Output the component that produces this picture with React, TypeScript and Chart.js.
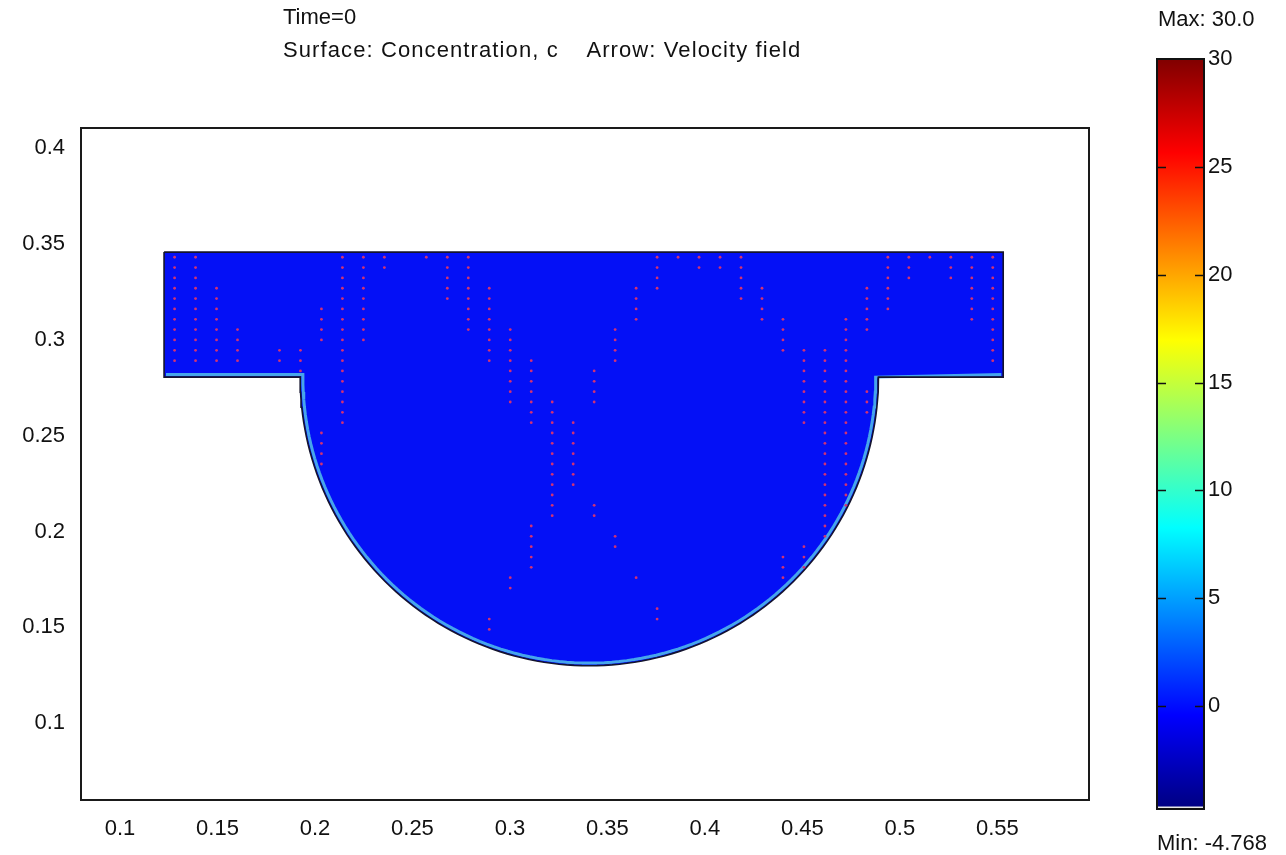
import React, { useEffect, useRef } from 'react';
import { Chart, registerables } from 'chart.js';

Chart.register(...registerables);

// ---- axes ----
const X_TICKS = [0.1, 0.15, 0.2, 0.25, 0.3, 0.35, 0.4, 0.45, 0.5, 0.55];
const Y_TICKS = [0.1, 0.15, 0.2, 0.25, 0.3, 0.35, 0.4];
const X_MIN = 0.08;
const X_MAX = 0.597;
const Y_MIN = 0.06;
const Y_MAX = 0.4104;

// ---- domain geometry (data units) ----
const RECT_LEFT = 0.1226;
const RECT_RIGHT = 0.553;
const RECT_TOP = 0.3457;
const LEDGE_Y = 0.2805;
const ARC_CX = 0.3407;
const ARC_RX = 0.1483;
const ARC_RY = 0.1505;

// ---- colour range ----
const COLOR_MIN = -4.768;
const COLOR_MAX = 30;
const COLOR_TICKS = [0, 5, 10, 15, 20, 25, 30];

// ---- arrow grid (velocity field at t=0: tiny arrows) ----
const ARROW_X0 = 0.128;
const ARROW_DX = 0.01076;
const ARROW_Y0 = 0.343;
const ARROW_DY = 0.00539;
// [column, first row, last row]
const ARROW_RUNS: [number, number, number][] = [
  [0, 0, 10], [1, 0, 10], [2, 3, 10], [3, 7, 10], [5, 9, 10], [6, 9, 11],
  [7, 5, 8], [7, 17, 20], [8, 0, 16], [9, 0, 8], [10, 0, 1], [12, 0, 0],
  [13, 0, 4], [14, 0, 7], [15, 3, 10], [15, 35, 36], [16, 7, 14], [16, 31, 32],
  [17, 10, 16], [17, 26, 30], [18, 14, 25], [19, 16, 22], [20, 11, 14], [20, 24, 25],
  [21, 7, 10], [21, 27, 28], [22, 3, 6], [22, 31, 31], [23, 0, 3], [23, 34, 35],
  [24, 0, 0], [25, 0, 1], [26, 0, 1], [27, 0, 4], [28, 3, 6], [29, 6, 9],
  [29, 29, 31], [30, 9, 16], [30, 28, 30], [31, 9, 27], [32, 6, 24], [33, 3, 7],
  [33, 13, 15], [34, 0, 5], [35, 0, 2], [36, 0, 0], [37, 0, 2], [38, 0, 6], [39, 0, 10],
];

const TITLE_LINE_1 = 'Time=0';
const TITLE_LINE_2 = 'Surface: Concentration, c    Arrow: Velocity field';
const MAX_LABEL = 'Max: 30.0';
const MIN_LABEL = 'Min: -4.768';

const JET_STOPS: [number, string][] = [
  [0, 'rgb(0,0,128)'],
  [0.125, 'rgb(0,0,255)'],
  [0.375, 'rgb(0,255,255)'],
  [0.625, 'rgb(255,255,0)'],
  [0.875, 'rgb(255,0,0)'],
  [1, 'rgb(128,0,0)'],
];

const FONT = '"Liberation Sans", Arial, sans-serif';
const FONT_SIZE = 22;

type P = { x: number; y: number };

function arcPoints(rx: number, ry: number, from: number, to: number, n: number): P[] {
  const pts: P[] = [];
  for (let i = 0; i <= n; i++) {
    const t = from + ((to - from) * i) / n;
    pts.push({ x: ARC_CX + rx * Math.cos(t), y: LEDGE_Y + ry * Math.sin(t) });
  }
  return pts;
}

function outline(): P[] {
  return [
    { x: RECT_LEFT, y: RECT_TOP },
    { x: RECT_RIGHT, y: RECT_TOP },
    { x: RECT_RIGHT, y: LEDGE_Y },
    ...arcPoints(ARC_RX, ARC_RY, 0, -Math.PI, 120),
    { x: RECT_LEFT, y: LEDGE_Y },
    { x: RECT_LEFT, y: RECT_TOP },
  ];
}

function innerBand(): P[] {
  const d = 0.0014;
  return [
    { x: RECT_LEFT + 0.001, y: LEDGE_Y + d },
    { x: ARC_CX - ARC_RX + d, y: LEDGE_Y + d },
    ...arcPoints(ARC_RX - d, ARC_RY - d, Math.PI, 2 * Math.PI, 120),
    { x: RECT_RIGHT - 0.001, y: LEDGE_Y + d },
  ];
}

function arrowPoints(): P[] {
  const pts: P[] = [];
  ARROW_RUNS.forEach(([c, r0, r1]) => {
    for (let r = r0; r <= r1; r++) {
      pts.push({ x: ARROW_X0 + c * ARROW_DX, y: ARROW_Y0 - r * ARROW_DY });
    }
  });
  return pts;
}

const framePlugin = {
  id: 'frame',
  afterDraw(chart: any) {
    const { ctx, chartArea: a } = chart;
    ctx.save();
    ctx.strokeStyle = '#1a1a1a';
    ctx.lineWidth = 2;
    ctx.strokeRect(a.left, a.top, a.right - a.left, a.bottom - a.top);
    ctx.restore();
  },
};

const colorbarPlugin = {
  id: 'cbframe',
  afterDatasetsDraw(chart: any) {
    const { ctx, chartArea: a } = chart;
    const ys = chart.scales.y;
    ctx.save();
    ctx.strokeStyle = '#111';
    ctx.lineWidth = 1.5;
    COLOR_TICKS.forEach((v) => {
      if (v >= COLOR_MAX) return;
      const py = Math.round(ys.getPixelForValue(v)) + 0.5;
      ctx.beginPath();
      ctx.moveTo(a.left, py);
      ctx.lineTo(a.left + 9, py);
      ctx.moveTo(a.right - 9, py);
      ctx.lineTo(a.right, py);
      ctx.stroke();
    });
    ctx.lineWidth = 2;
    ctx.strokeRect(a.left, a.top, a.right - a.left, a.bottom - a.top);
    ctx.restore();
  },
};

export default function App() {
  const mainRef = useRef<HTMLCanvasElement>(null);
  const barRef = useRef<HTMLCanvasElement>(null);

  useEffect(() => {
    const tickFont = { family: FONT, size: FONT_SIZE };
    const main = new Chart(mainRef.current!, {
      type: 'scatter',
      data: {
        datasets: [
          {
            data: arrowPoints(),
            showLine: false,
            pointRadius: 1.4,
            pointBackgroundColor: 'rgb(210,50,115)',
            pointBorderWidth: 0,
            order: 0,
          },
          {
            data: outline(),
            showLine: true,
            fill: false,
            borderColor: 'rgb(20,20,45)',
            borderWidth: 1.6,
            pointRadius: 0,
            order: 1,
          },
          {
            data: innerBand(),
            showLine: true,
            fill: false,
            borderColor: 'rgb(70,165,235)',
            borderWidth: 3,
            pointRadius: 0,
            order: 2,
          },
          {
            data: outline(),
            showLine: true,
            fill: 'shape',
            backgroundColor: 'rgb(4,16,246)',
            borderColor: 'rgba(0,0,0,0)',
            borderWidth: 0,
            pointRadius: 0,
            order: 3,
          },
        ] as any,
      },
      options: {
        animation: false,
        responsive: false,
        maintainAspectRatio: false,
        layout: { padding: { left: 0, top: 128, right: 21, bottom: 0 } },
        plugins: { legend: { display: false }, tooltip: { enabled: false }, title: { display: false } },
        scales: {
          x: {
            type: 'linear',
            min: X_MIN,
            max: X_MAX,
            afterBuildTicks: (ax: any) => { ax.ticks = X_TICKS.map((v) => ({ value: v })); },
            afterFit: (ax: any) => { ax.height = 55; },
            grid: { display: false, drawTicks: false },
            border: { display: false },
            ticks: { font: tickFont, color: '#111', padding: 16, autoSkip: false, maxRotation: 0, callback: (v: any) => String(v) },
          },
          y: {
            type: 'linear',
            min: Y_MIN,
            max: Y_MAX,
            afterBuildTicks: (ax: any) => { ax.ticks = Y_TICKS.map((v) => ({ value: v })); },
            afterFit: (ax: any) => { ax.width = 81; },
            grid: { display: false, drawTicks: false },
            border: { display: false },
            ticks: { font: tickFont, color: '#111', padding: 16, autoSkip: false, callback: (v: any) => String(v) },
          },
        },
      } as any,
      plugins: [framePlugin],
    });

    const jet = (ctx: any) => {
      const chart = ctx.chart;
      const ys = chart.scales && chart.scales.y;
      if (!ys || !chart.chartArea) return 'rgb(0,0,255)';
      const g = chart.ctx.createLinearGradient(0, ys.getPixelForValue(COLOR_MIN), 0, ys.getPixelForValue(COLOR_MAX));
      JET_STOPS.forEach(([t, c]) => g.addColorStop(t, c));
      return g;
    };

    const bar = new Chart(barRef.current!, {
      type: 'bar',
      data: {
        labels: ['c'],
        datasets: [
          {
            data: [[COLOR_MIN, COLOR_MIN + 0.1]],
            backgroundColor: 'rgb(232,232,232)',
            barPercentage: 1,
            categoryPercentage: 1,
            grouped: false,
            order: 0,
          },
          {
            data: [[COLOR_MIN, COLOR_MAX]],
            backgroundColor: jet,
            barPercentage: 1,
            categoryPercentage: 1,
            grouped: false,
            order: 1,
          },
        ] as any,
      },
      options: {
        animation: false,
        responsive: false,
        maintainAspectRatio: false,
        layout: { padding: { left: 57, top: 59, right: 0, bottom: 46 } },
        plugins: { legend: { display: false }, tooltip: { enabled: false } },
        scales: {
          x: { display: false },
          y: {
            position: 'right',
            min: COLOR_MIN,
            max: COLOR_MAX,
            afterBuildTicks: (ax: any) => { ax.ticks = COLOR_TICKS.map((v) => ({ value: v })); },
            afterFit: (ax: any) => { ax.width = 82; },
            grid: { display: false, drawTicks: false },
            border: { display: false },
            ticks: { font: tickFont, color: '#111', padding: 4, callback: (v: any) => String(v) },
          },
        },
      } as any,
      plugins: [colorbarPlugin],
    });

    return () => {
      main.destroy();
      bar.destroy();
    };
  }, []);

  const textStyle = (centerY: number): React.CSSProperties => ({
    position: 'absolute',
    top: centerY - 13,
    height: 26,
    lineHeight: '26px',
    fontFamily: FONT,
    fontSize: FONT_SIZE,
    color: '#111',
    whiteSpace: 'pre',
  });

  return (
    <div style={{ position: 'absolute', left: 0, top: 0, width: 1286, height: 855, background: '#fff', overflow: 'hidden' }}>
      <canvas ref={mainRef} width={1110} height={855} style={{ position: 'absolute', left: 0, top: 0, width: 1110, height: 855 }} />
      <canvas ref={barRef} width={186} height={855} style={{ position: 'absolute', left: 1100, top: 0, width: 186, height: 855 }} />
      <div style={{ ...textStyle(17), left: 283 }}>{TITLE_LINE_1}</div>
      <div style={{ ...textStyle(50), left: 283, letterSpacing: '1.1px' }}>{TITLE_LINE_2}</div>
      <div style={{ ...textStyle(19), left: 1158 }}>{MAX_LABEL}</div>
      <div style={{ ...textStyle(843), left: 1157 }}>{MIN_LABEL}</div>
    </div>
  );
}
